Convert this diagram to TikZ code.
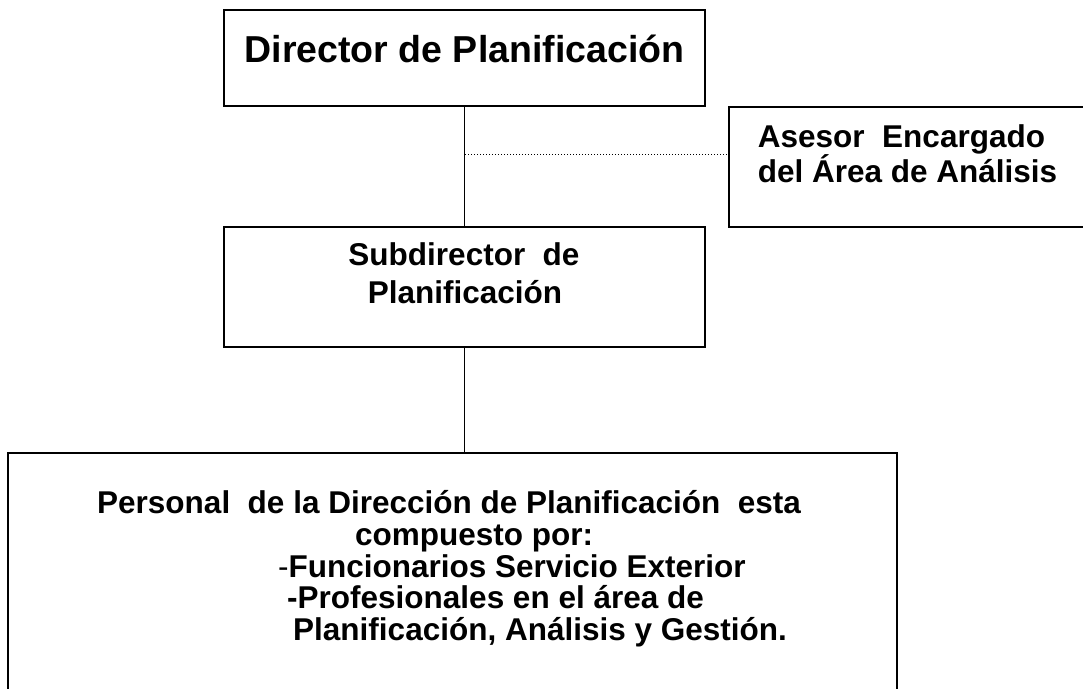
\documentclass[tikz,border=0pt]{standalone}
\usepackage{fontspec}
\setmainfont{Liberation Sans}
\begin{document}
\begin{tikzpicture}[x=1pt,y=-1pt,
  box/.style={draw, line width=2.1pt, inner sep=0pt},
  conn/.style={line width=1.6pt},
  dotline/.style={line width=1pt, dotted},
  big/.style={font=\fontsize{37.5}{43}\selectfont\bfseries, inner sep=0pt, anchor=base},
  txt/.style={font=\fontsize{31.5}{36}\selectfont\bfseries, inner sep=0pt, anchor=base},
  txtl/.style={txt, anchor=base west}]
\useasboundingbox (0,0) rectangle (1083,688);
\fill[white] (0,0) rectangle (1083,688);
% boxes
\node[box, minimum width=481pt, minimum height=96pt] (dir) at (464.5,58) {};
\node[box, minimum width=366pt, minimum height=120pt] (ase) at (912,167) {};
\node[box, minimum width=481pt, minimum height=120pt] (sub) at (464.5,287) {};
\node[box, minimum width=889pt, minimum height=267pt] (per) at (452.5,586.5) {};
% texts
\node[big] (tdir) at (464.5,62) {Director de Planificación};
\node[txt] (ta1) at (901.5,147) {Asesor\ \ Encargado};
\node[txt] (ta2) at (907.5,182) {del Área de Análisis};
\node[txt] (ts1) at (464,265) {Subdirector\ \ de};
\node[txt] (ts2) at (465,303) {Planificación};
\node[txtl] (tp1) at (97,513) {Personal\ \ de la Dirección de Planificación\ \ esta};
\node[txtl] (tp2) at (355,545) {compuesto por:};
\node[txtl] (tp3) at (278,577) {{\mdseries -}Funcionarios Servicio Exterior};
\node[txtl] (tp4) at (287,608) {-Profesionales en el área de};
\node[txtl] (tp5) at (293,640) {Planificación, Análisis y Gestión.};
% connectors
\draw[conn] (dir.south) -- (sub.north);
\draw[conn] (sub.south) -- (sub.south |- per.north);
\coordinate (dj) at (465,154);
\draw[dotline] (dj) -- (dj -| ase.west);
\end{tikzpicture}
\end{document}
